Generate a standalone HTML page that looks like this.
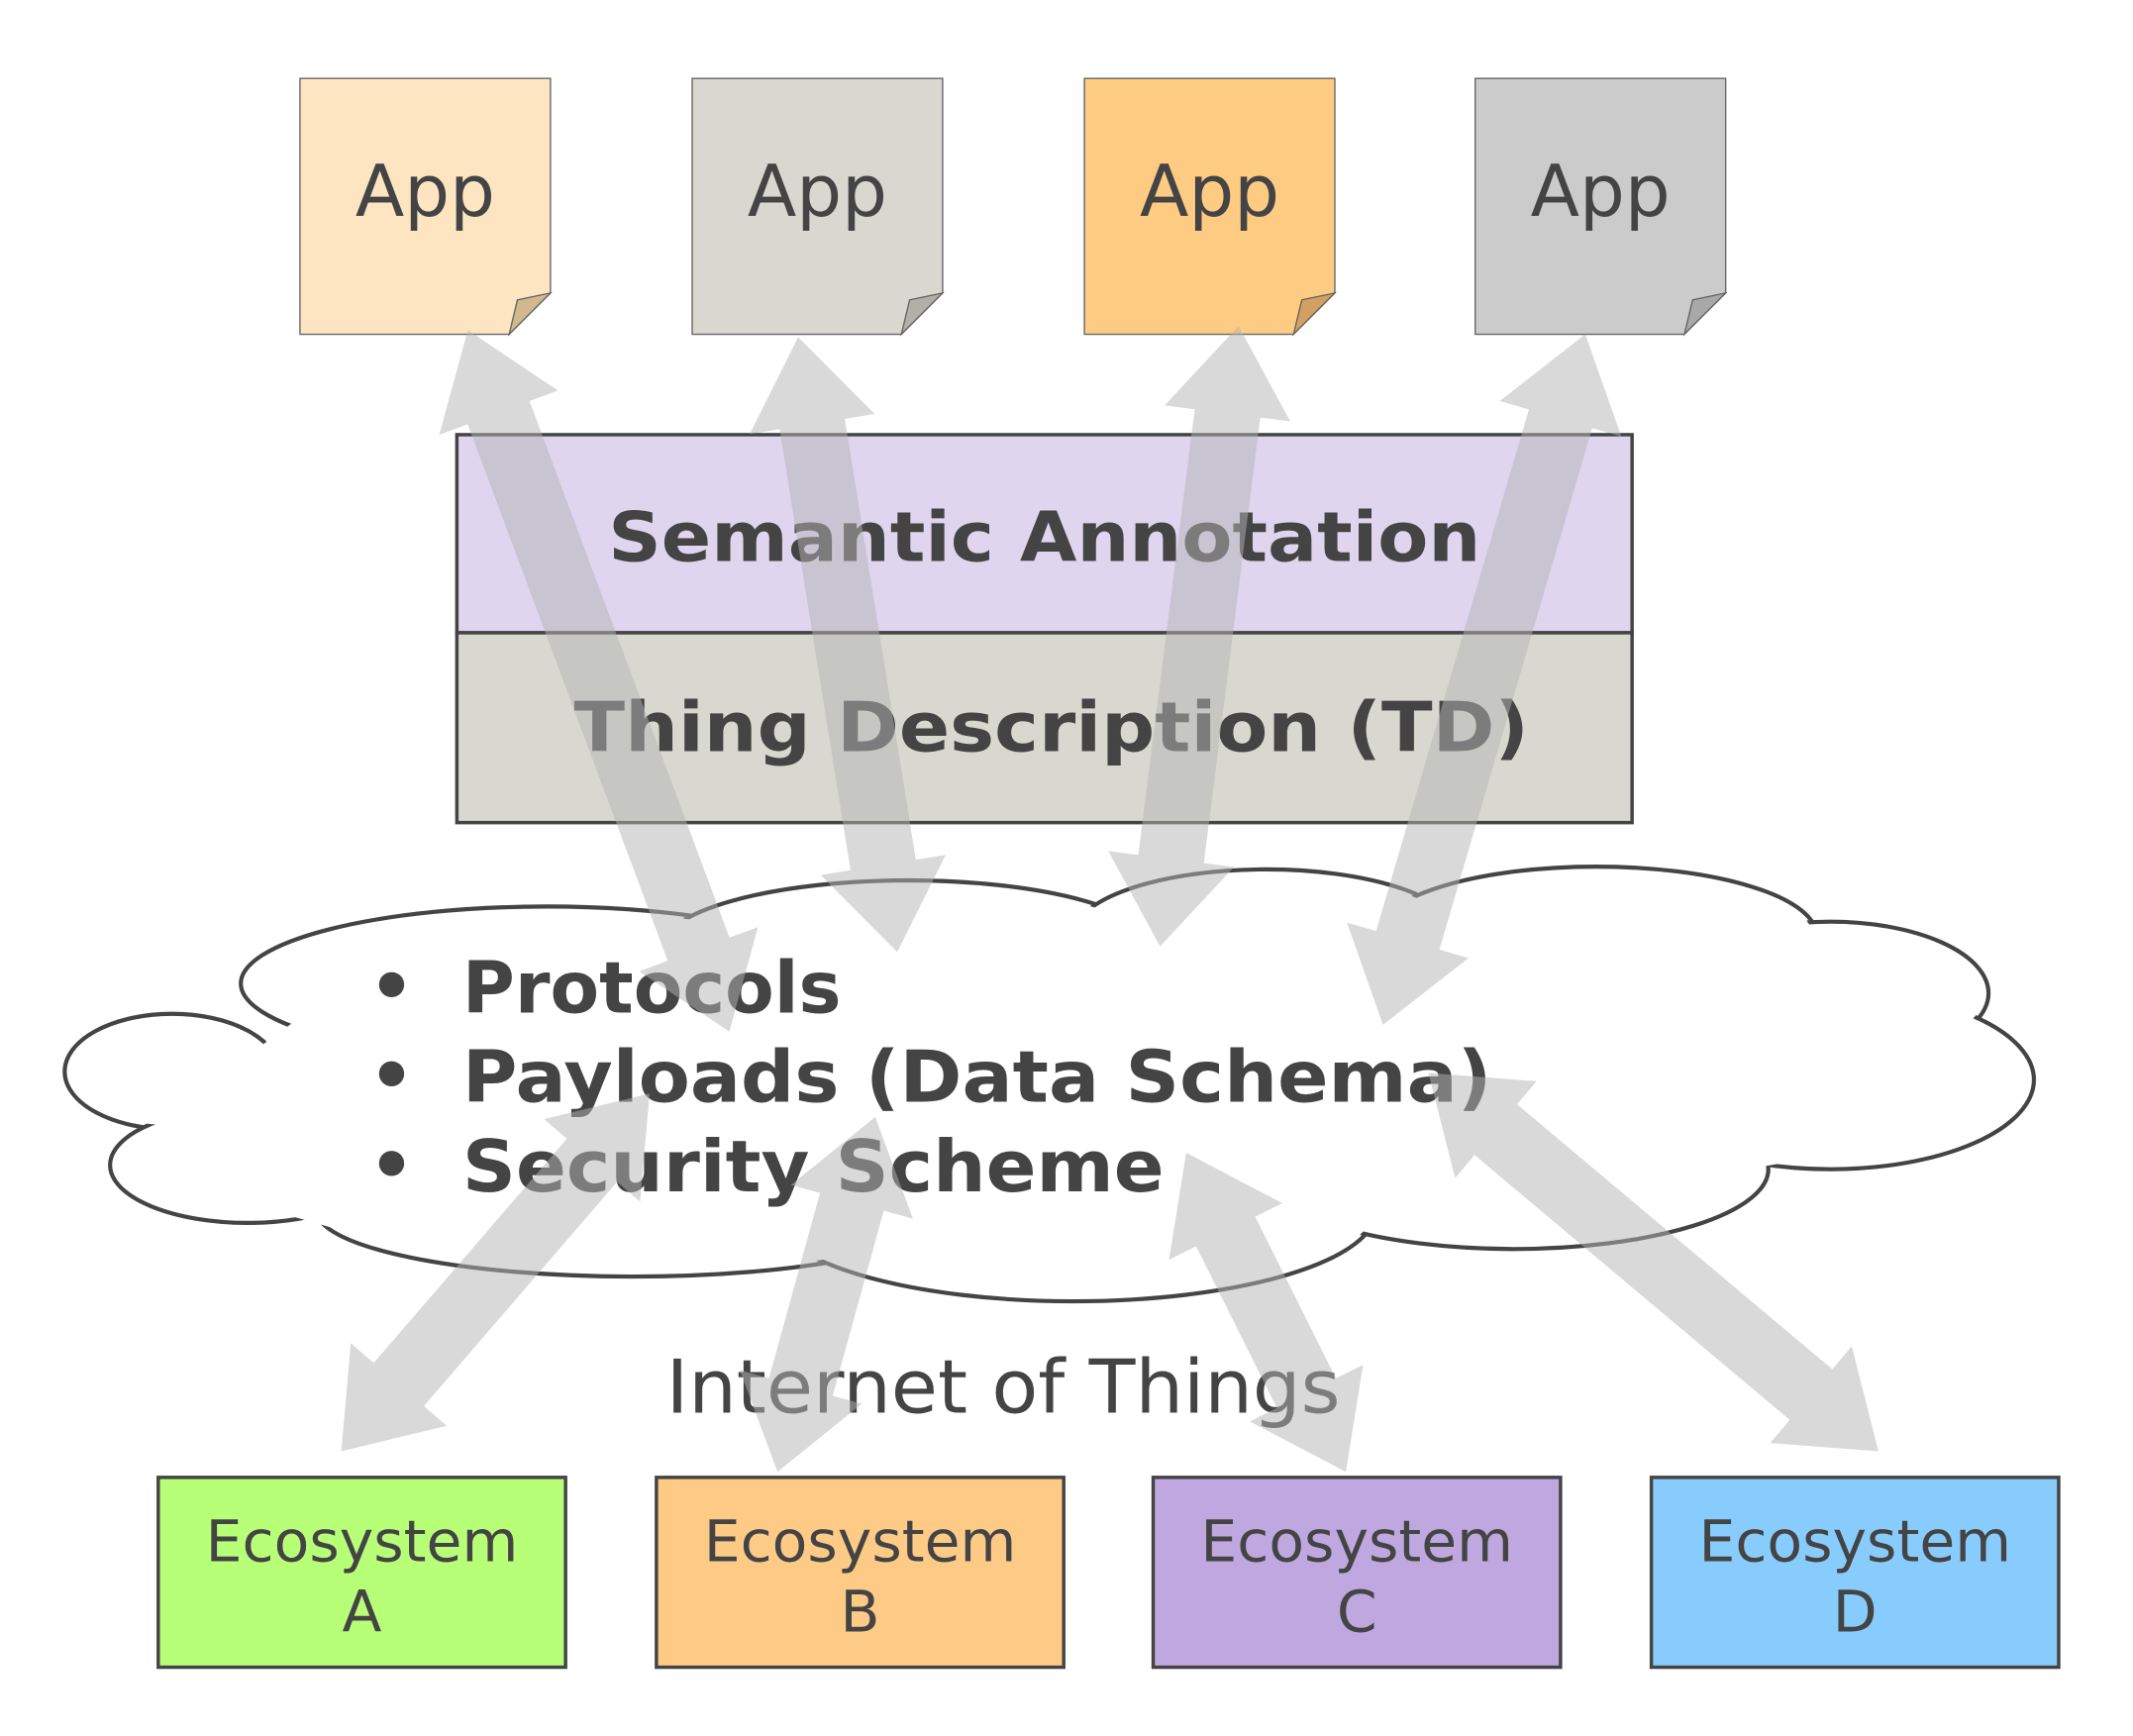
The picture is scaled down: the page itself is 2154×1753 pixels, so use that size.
<!DOCTYPE html>
<html><head><meta charset="utf-8"><style>
html,body{margin:0;padding:0;background:#fff;}
svg{display:block;}
text{font-family:"DejaVu Sans","Liberation Sans",sans-serif;fill:#444;}
</style></head><body>
<svg id="s" width="2154" height="1753" viewBox="0 0 1550 1262" preserveAspectRatio="none" xmlns="http://www.w3.org/2000/svg">
<g stroke="#666" stroke-width="1">
<polygon points="218,57 400,57 400,213 370,243 218,243" fill="#fee5c2"/>
<polygon points="370,243 376,218 400,213" fill="#d2b88c"/>
<polygon points="503,57 685,57 685,213 655,243 503,243" fill="#d8d8d0"/>
<polygon points="655,243 661,218 685,213" fill="#b0b0a8"/>
<polygon points="788,57 970,57 970,213 940,243 788,243" fill="#fecb83"/>
<polygon points="940,243 946,218 970,213" fill="#d2a060"/>
<polygon points="1072,57 1254,57 1254,213 1224,243 1072,243" fill="#cbcbcb"/>
<polygon points="1224,243 1230,218 1254,213" fill="#a8a8a8"/>
</g>
<g font-size="52" text-anchor="middle">
<text x="309" y="157">App</text><text x="594" y="157">App</text>
<text x="879" y="157">App</text><text x="1163" y="157">App</text>
</g>
<rect x="332" y="316" width="854" height="144" fill="#dfd5ef" stroke="#444" stroke-width="2.5"/>
<rect x="332" y="460" width="854" height="138" fill="#d8d8d0" stroke="#444" stroke-width="2.5"/>
<g font-size="50" font-weight="bold" text-anchor="middle">
<text x="759" y="408" textLength="634" lengthAdjust="spacingAndGlyphs">Semantic Annotation</text>
<text x="764" y="546" textLength="694" lengthAdjust="spacingAndGlyphs">Thing Description (TD)</text>
</g>
<g stroke="#444" stroke-width="3" fill="#fff">
<ellipse cx="397" cy="715" rx="222" ry="56"/>
<ellipse cx="125" cy="779" rx="78" ry="42"/>
<ellipse cx="180" cy="847" rx="100" ry="42"/>
<ellipse cx="460" cy="880" rx="230" ry="48"/>
<ellipse cx="780" cy="880" rx="220" ry="66"/>
<ellipse cx="660" cy="690" rx="180" ry="50"/>
<ellipse cx="920" cy="680" rx="140" ry="48"/>
<ellipse cx="1160" cy="680" rx="160" ry="50"/>
<ellipse cx="1330" cy="722" rx="115" ry="52"/>
<ellipse cx="1330" cy="785" rx="148" ry="65"/>
<ellipse cx="1100" cy="850" rx="185" ry="58"/>
</g>
<g fill="#fff">
<ellipse cx="397" cy="715" rx="219" ry="53"/>
<ellipse cx="125" cy="779" rx="75" ry="39"/>
<ellipse cx="180" cy="847" rx="97" ry="39"/>
<ellipse cx="460" cy="880" rx="227" ry="45"/>
<ellipse cx="780" cy="880" rx="217" ry="63"/>
<ellipse cx="660" cy="690" rx="177" ry="47"/>
<ellipse cx="920" cy="680" rx="137" ry="45"/>
<ellipse cx="1160" cy="680" rx="157" ry="47"/>
<ellipse cx="1330" cy="722" rx="112" ry="49"/>
<ellipse cx="1330" cy="785" rx="145" ry="62"/>
<ellipse cx="1100" cy="850" rx="182" ry="55"/>
<polygon points="120,750 190,760 300,680 530,700 660,660 790,690 920,650 1040,690 1160,655 1300,690 1400,720 1450,785 1380,830 1270,850 1100,895 990,880 780,935 590,910 460,915 250,895 180,875 90,845 180,820 80,790"/>
</g>
<g font-size="52" font-weight="bold">
<text x="268" y="735">•</text><text x="336" y="736">Protocols</text>
<text x="268" y="800">•</text><text x="336" y="801" textLength="748" lengthAdjust="spacingAndGlyphs">Payloads (Data Schema)</text>
<text x="268" y="865">•</text><text x="336" y="866" textLength="510" lengthAdjust="spacingAndGlyphs">Security Scheme</text>
</g>
<text x="729" y="1027" font-size="54" text-anchor="middle" textLength="490" lengthAdjust="spacingAndGlyphs">Internet of Things</text>
<g stroke="#444" stroke-width="2.5">
<rect x="115" y="1074" width="296" height="138" fill="#b8ff78"/>
<rect x="477" y="1074" width="296" height="138" fill="#fecb86"/>
<rect x="838" y="1074" width="296" height="138" fill="#bfa8e0"/>
<rect x="1200" y="1074" width="296" height="138" fill="#88ccfe"/>
</g>
<g font-size="42" text-anchor="middle">
<text x="263" y="1135">Ecosystem</text><text x="263" y="1186">A</text>
<text x="625" y="1135">Ecosystem</text><text x="625" y="1186">B</text>
<text x="986" y="1135">Ecosystem</text><text x="986" y="1186">C</text>
<text x="1348" y="1135">Ecosystem</text><text x="1348" y="1186">D</text>
</g>
<g id="arrows" fill="#b4b4b4" fill-opacity="0.5"></g>
</svg>
<script>
(function(){
var A=[[340,240,530,750],[580,245,652,692],[900,237,843,688],[1152,243,1005,745],
[248,1055,472,795],[565,1070,636,812],[978,1070,862,838],[1365,1055,1038,780]];
var g=document.getElementById('arrows');
var H=64,HW=46,SW=24;
A.forEach(function(a){
 var x1=a[0],y1=a[1],x2=a[2],y2=a[3];
 var dx=x2-x1,dy=y2-y1,L=Math.sqrt(dx*dx+dy*dy),ux=dx/L,uy=dy/L,px=-uy,py=ux;
 function P(t,w){return (x1+ux*t+px*w).toFixed(1)+','+(y1+uy*t+py*w).toFixed(1);}
 var pts=[P(0,0),P(H,HW),P(H,SW),P(L-H,SW),P(L-H,HW),P(L,0),P(L-H,-HW),P(L-H,-SW),P(H,-SW),P(H,-HW)];
 var p=document.createElementNS('http://www.w3.org/2000/svg','polygon');
 p.setAttribute('points',pts.join(' '));g.appendChild(p);
});
})();
</script>
</body></html>
